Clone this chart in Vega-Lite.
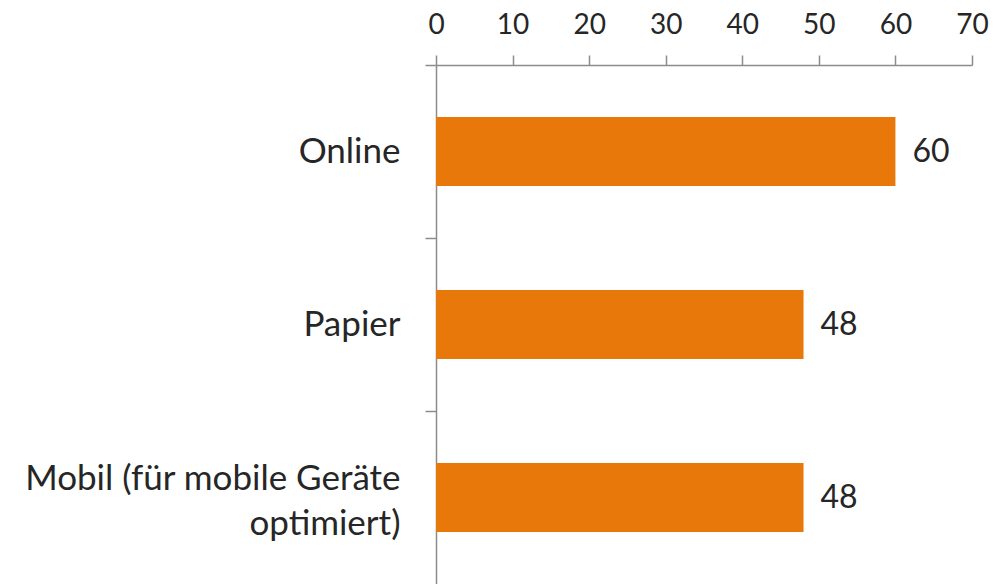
{
  "$schema": "https://vega.github.io/schema/vega-lite/v6.json",
  "width": 536,
  "height": 519,
  "autosize": {"type": "none"},
  "padding": {"left": 436, "top": 65, "right": 36, "bottom": 0},
  "background": "white",
  "config": {
    "view": {"stroke": null},
    "font": "Lato",
    "axis": {"grid": false, "domainColor": "#8C8C8C", "tickColor": "#8C8C8C", "domainWidth": 1.5, "tickWidth": 1.5, "labelColor": "#262626", "labelFont": "Lato", "title": null}
  },
  "data": {
    "values": [
      {"kategorie": "Online", "wert": 60},
      {"kategorie": "Papier", "wert": 48},
      {"kategorie": "Mobil (für mobile Geräte|optimiert)", "wert": 48}
    ]
  },
  "encoding": {
    "y": {
      "field": "kategorie",
      "type": "nominal",
      "sort": null,
      "scale": {"paddingInner": 0, "paddingOuter": 0},
      "axis": {
        "orient": "left",
        "bandPosition": 0,
        "tickSize": 11,
        "labelFontSize": 35,
        "labelPadding": 25,
        "labelLimit": 500,
        "labelLineHeight": 45,
        "labelOffset": {"expr": "indexof(datum.value, '|') >= 0 ? -19 : 0"},
        "labelExpr": "split(datum.label, '|')"
      }
    },
    "x": {
      "field": "wert",
      "type": "quantitative",
      "scale": {"domain": [0, 70], "nice": false},
      "axis": {
        "orient": "top",
        "values": [0, 10, 20, 30, 40, 50, 60, 70],
        "tickSize": 10,
        "labelFontSize": 28,
        "labelPadding": 16,
        "labelFlush": false,
        "labelOverlap": false
      }
    }
  },
  "layer": [
    {
      "mark": {"type": "bar", "color": "#E8780A", "height": {"band": 0.4}}
    },
    {
      "mark": {"type": "text", "align": "left", "baseline": "middle", "dx": 17, "fontSize": 32, "color": "#262626", "font": "Lato"},
      "encoding": {"text": {"field": "wert", "type": "quantitative"}}
    }
  ]
}
